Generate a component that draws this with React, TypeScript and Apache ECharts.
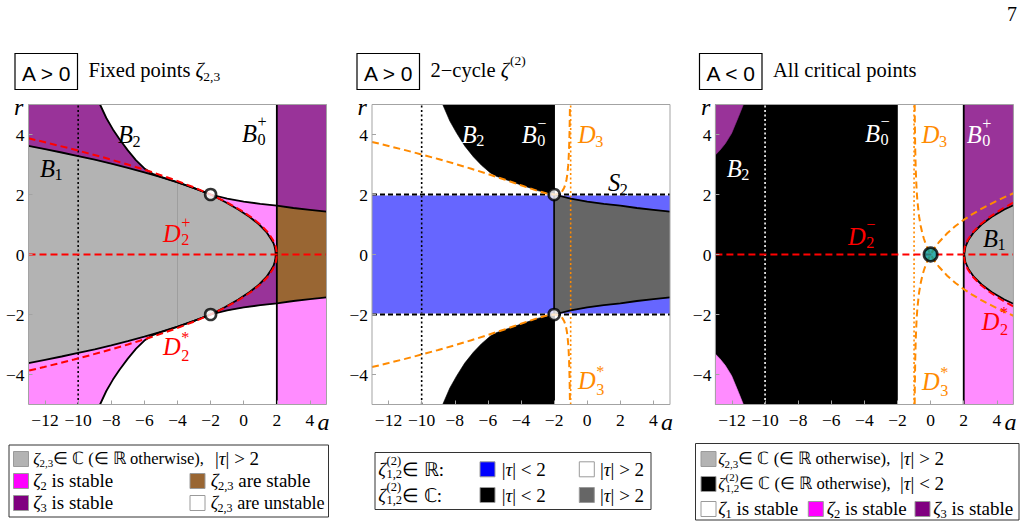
import React, { useEffect, useRef } from "react";
import * as echarts from "echarts";

const W = 1027;
const H = 526;
const SERIF = "Liberation Serif, Times New Roman, serif";
const SANS = "Liberation Sans, Arial, sans-serif";

// ---- axes ----
const A_MIN = -13;
const A_MAX = 5;
const R_MIN = -5;
const R_MAX = 5;
const A_TICKS = [-12, -10, -8, -6, -4, -2, 0, 2, 4];
const R_TICKS = [-4, -2, 0, 2, 4];

// ---- curves, (a, r), upper branches (lower ones are mirror images) ----
// discriminant curve D2 for A > 0
const D2_UP = [
  [-13, 3.873], [-12.06, 3.75], [-10.25, 3.5], [-8.56, 3.25], [-7, 3], [-5.56, 2.75],
  [-4.25, 2.5], [-3.06, 2.25], [-2, 2], [-1.06, 1.75], [-0.25, 1.5], [0.44, 1.25],
  [1, 1], [1.44, 0.75], [1.75, 0.5], [1.86, 0.375], [1.94, 0.25], [1.98, 0.125], [2, 0],
];
// boundary B1 of the complex fixed-point region (A > 0)
const B1_LEFT = [
  [-13, 3.62], [-12, 3.51], [-11, 3.4], [-10, 3.28], [-9, 3.16], [-8, 3.03], [-7, 2.89],
  [-6, 2.74], [-5, 2.58], [-4, 2.4], [-3, 2.21], [-2, 2],
];
const B1_NOSE = [
  [-2, 2], [-1.12, 1.75], [-0.33, 1.5], [0.36, 1.25], [0.93, 1], [1.37, 0.75],
  [1.67, 0.5], [1.8, 0.375], [1.87, 0.25], [1.915, 0.125], [1.93, 0],
];
// stability boundary B2
const B2_TOP = [
  [-8.68, 5], [-8.3, 4.55], [-7.9, 4.17], [-7.5, 3.84], [-7, 3.47], [-6.5, 3.14],
  [-6, 2.87], [-5.5, 2.69], [-5, 2.59], [-4.5, 2.5], [-4, 2.41], [-3, 2.215], [-2, 2],
];
const B2_RIGHT = [
  [-2, 2], [-1, 1.86], [0, 1.76], [1, 1.69], [2, 1.63], [3, 1.55], [4, 1.49], [5, 1.43],
];
// 2-cycle: edge of the complex |tau|<2 region
const B2_CYCLE_TOP = [
  [-8.73, 5], [-8.3, 4.45], [-7.88, 4.04], [-7.4, 3.62], [-6.88, 3.26], [-6.4, 2.98],
  [-5.85, 2.72], [-5.5, 2.61], [-5, 2.51], [-4, 2.32], [-3, 2.13], [-2, 2],
];
// D3 for A > 0 (branch with a < -1)
const D3_POS = [
  [-13, 3.753], [-12, 3.618], [-11, 3.479], [-10, 3.333], [-9, 3.182], [-8, 3.024],
  [-7, 2.858], [-6, 2.683], [-5, 2.5], [-4, 2.309], [-3, 2.121], [-2.5, 2.041], [-2, 2],
  [-1.8, 2.012], [-1.6, 2.066], [-1.5, 2.121], [-1.4, 2.214], [-1.3, 2.373], [-1.25, 2.5],
  [-1.2, 2.683], [-1.15, 2.969], [-1.12, 3.233], [-1.1, 3.479], [-1.08, 3.818],
  [-1.065, 4.177], [-1.05, 4.696], [-1.043, 5],
];
// D3 for A < 0 (a > -1)
const D3_NEG = [
  [-0.963, 5], [-0.957, 4.615], [-0.95, 4.249], [-0.93, 3.515], [-0.9, 2.846],
  [-0.85, 2.195], [-0.8, 1.789], [-0.7, 1.278], [-0.6, 0.949], [-0.5, 0.707],
  [-0.4, 0.516], [-0.3, 0.359], [-0.2, 0.224], [-0.1, 0.105], [0, 0], [0.25, 0.224],
  [0.5, 0.408], [1, 0.707], [1.5, 0.949], [2, 1.155], [2.5, 1.336], [3, 1.5],
  [3.5, 1.65], [4, 1.789], [4.5, 1.919], [5, 2.041],
];
// D2 and B1 for A < 0
const D2_NEG = [
  [2, 0], [2.0625, 0.25], [2.25, 0.5], [2.5625, 0.75], [3, 1], [3.5625, 1.25], [4.25, 1.5], [5, 1.732],
];
const B1_NEG = [
  [2.03, 0], [2.1, 0.25], [2.3, 0.5], [2.62, 0.75], [3.08, 1], [3.68, 1.25], [4.45, 1.5], [5, 1.64],
];
// zeta3-stable corner for A < 0
const CORNER_NEG = [
  [-13, 5], [-11.31, 5], [-11.6, 4.6], [-12.02, 4.04], [-12.4, 3.7], [-12.72, 3.48], [-13, 3.32],
];
// special points
const CUSP_POINTS = [[-2, 2], [-2, -2]];
const ORIGIN_POINT = [[0, 0]];

// ---- colours ----
const FRAME = "#a3a3a3";
const GRAY = "#b3b3b3";
const PINK = "#ff8cff";
const PURPLE = "#993399";
const BROWN = "#996633";
const BLUE = "#6666ff";
const DARK = "#666666";
const RED = "#ff0000";
const ORANGE = "#ff8a00";
const TEAL = "#009999";

const PANELS = [
  { left: 28.5, top: 104.5, width: 298, height: 300 },
  { left: 372, top: 104.5, width: 298, height: 300 },
  { left: 715.4, top: 104.5, width: 298, height: 300 },
];

type Pt = number[];
const flip = (pts: Pt[]) => pts.map(([a, r]) => [a, -r]);
const rev = (pts: Pt[]) => pts.slice().reverse();

// ---- text helpers ----
const measureCtx = document.createElement("canvas").getContext("2d") as CanvasRenderingContext2D;
function tw(text: string, size: number, style = "normal", family = SERIF) {
  measureCtx.font = `${style} normal ${size}px ${family}`;
  return measureCtx.measureText(text).width;
}
function txt(x: number, y: number, text: string, size: number, color: string, fontStyle = "normal", align = "left", family = SERIF, lineHeight?: number) {
  const style: any = { text, fill: color, fontSize: size, fontFamily: family, fontStyle, align, verticalAlign: "middle" };
  if (lineHeight) style.lineHeight = lineHeight;
  return { type: "text", x, y, z: 100, silent: true, style };
}
// gap: vertical distance between stacked super- and subscript, in units of the font size
type Run = { t?: string; it?: boolean; sub?: string; sup?: string; gap?: number };
function layoutRuns(x: number, cy: number, runs: Run[], size: number, color: string) {
  const els: any[] = [];
  const ss = Math.round(size * 0.66 * 10) / 10;
  let cx = x;
  for (const r of runs) {
    if (r.t) {
      const st = r.it ? "italic" : "normal";
      els.push(txt(cx, cy, r.t, size, color, st));
      cx += tw(r.t, size, st);
    }
    let adv = 0;
    if (r.sup && r.sub) {
      // stacked pair drawn as one two-line text
      const star = r.sup === "*";
      const gap = Math.max(r.gap ?? 0.72, ss / size + 0.01) * size;
      const mid = star ? cy + 0.02 * size : cy - 0.08 * size;
      els.push(txt(cx + 0.5, mid, `${r.sup}\n${r.sub}`, ss, color, "normal", "left", SERIF, gap));
      adv = Math.max(tw(r.sup, ss), tw(r.sub, ss)) + 0.5;
    } else if (r.sup) {
      const off = r.it ? 1 : 0.5;
      els.push(txt(cx + off, cy - size * 0.47, r.sup, ss, color));
      adv = tw(r.sup, ss) + off;
    } else if (r.sub) {
      const off = r.it ? -0.5 : 0.5;
      els.push(txt(cx + off, cy + size * 0.3, r.sub, ss, color));
      adv = tw(r.sub, ss) + off;
    }
    cx += adv;
  }
  return { els, width: cx - x };
}
// lays out a formula; shrinks it when it would be wider than maxW
function mathText(x: number, cy: number, runs: Run[], size: number, color: string, maxW = Infinity) {
  let out = layoutRuns(x, cy, runs, size, color);
  if (out.width > maxW) out = layoutRuns(x, cy, runs, size * (maxW / out.width), color);
  return out.els;
}
function swatch(x: number, cy: number, fill: string) {
  return {
    type: "rect", z: 100, silent: true,
    shape: { x, y: cy - 7.5, width: 15, height: 15 },
    style: { fill, stroke: "#9a9a9a", lineWidth: 1 },
  };
}

// ---- series helpers ----
function line(gi: number, data: Pt[], color: string, width: number, type: any = "solid", z = 3) {
  return {
    type: "line", xAxisIndex: gi, yAxisIndex: gi, data, symbol: "none", showSymbol: false,
    smooth: false, clip: true, silent: true, z, animation: false,
    lineStyle: { color, width, type, cap: "butt" },
  };
}
function fills(gi: number, regions: { color: string; pts: Pt[] }[]) {
  return {
    type: "custom", xAxisIndex: gi, yAxisIndex: gi, z: 1, silent: true, clip: true,
    data: regions.map((r, i) => [r.pts[0][0], r.pts[0][1], i]),
    encode: { x: 0, y: 1 },
    renderItem: (_params: any, api: any) => {
      const reg = regions[api.value(2)];
      return {
        type: "polygon",
        shape: { points: reg.pts.map((p) => api.coord(p)) },
        style: { fill: reg.color, stroke: reg.color, lineWidth: 0.6 },
      };
    },
  };
}
function dots(gi: number, data: Pt[], fill: string, size: number) {
  return {
    type: "scatter", xAxisIndex: gi, yAxisIndex: gi, data, symbol: "circle", symbolSize: size,
    silent: true, z: 6, itemStyle: { color: fill, borderColor: "#000", borderWidth: 2.6 },
  };
}

function buildOption() {
  // panel 1: fixed points, A > 0
  const B1_FULL = B1_LEFT.concat(B1_NOSE.slice(1));
  const B2_FULL = B2_TOP.concat(B2_RIGHT.slice(1));
  const B2_MID = B2_RIGHT.filter((p) => p[0] <= 2);
  const B2_OUT = B2_RIGHT.filter((p) => p[0] >= 2);
  const topLeft = [[A_MIN, R_MAX], ...B2_TOP, ...rev(B1_LEFT)];
  const mid = [...B2_MID, [2, 0], ...rev(B1_NOSE)];
  const rightTop = [[2, R_MAX], [A_MAX, R_MAX], ...rev(B2_OUT)];
  const regions1 = [
    { color: GRAY, pts: [...B1_FULL, ...rev(flip(B1_FULL))] },
    { color: PURPLE, pts: topLeft },
    { color: PINK, pts: flip(topLeft) },
    { color: PINK, pts: mid },
    { color: PURPLE, pts: flip(mid) },
    { color: PURPLE, pts: rightTop },
    { color: BROWN, pts: [...B2_OUT, ...rev(flip(B2_OUT))] },
    { color: PINK, pts: flip(rightTop) },
  ];

  // panel 2: 2-cycle, A > 0
  const blueTop = [[-2, 2], [A_MAX, 2], ...rev(B2_RIGHT)];
  const blackTop = [...B2_CYCLE_TOP, [-2, R_MAX]];
  const regions2 = [
    { color: BLUE, pts: [[A_MIN, -2], [-2, -2], [-2, 2], [A_MIN, 2]] },
    { color: BLUE, pts: blueTop },
    { color: BLUE, pts: flip(blueTop) },
    { color: DARK, pts: [...B2_RIGHT, ...rev(flip(B2_RIGHT))] },
    { color: "#000", pts: blackTop },
    { color: "#000", pts: flip(blackTop) },
  ];

  // panel 3: all critical points, A < 0
  const rightTopNeg = [[2, 0], ...B1_NEG, [A_MAX, R_MAX], [2, R_MAX]];
  const regions3 = [
    { color: "#000", pts: [[A_MIN, R_MIN], [-2, R_MIN], [-2, R_MAX], [A_MIN, R_MAX]] },
    { color: PURPLE, pts: CORNER_NEG },
    { color: PINK, pts: flip(CORNER_NEG) },
    { color: PURPLE, pts: rightTopNeg },
    { color: GRAY, pts: [...B1_NEG, ...rev(flip(B1_NEG))] },
    { color: PINK, pts: flip(rightTopNeg) },
  ];

  const dash = [7, 4];
  const dot = [2, 2.5];
  const vline = (a: number) => [[a, R_MIN], [a, R_MAX]];
  const hline = (r: number) => [[A_MIN, r], [A_MAX, r]];

  const series: any[] = [
    fills(0, regions1),
    line(0, vline(-10), "#000", 1.6, dot),
    line(0, [[-4, -2.4], [-4, 2.4]], "rgba(110,110,110,0.45)", 0.7),
    line(0, [...B1_FULL, ...rev(flip(B1_FULL))], "#000", 1.8),
    line(0, B2_FULL, "#000", 1.8),
    line(0, flip(B2_FULL), "#000", 1.8),
    line(0, vline(2), "#000", 1.8),
    line(0, hline(0), RED, 2, dash, 4),
    line(0, [...D2_UP, ...rev(flip(D2_UP))], RED, 2, dash, 4),
    dots(0, CUSP_POINTS, "#fff", 11),

    fills(1, regions2),
    line(1, vline(-10), "#000", 1.6, dot),
    line(1, vline(-1), ORANGE, 1.6, dot),
    line(1, hline(2), "#fff", 2),
    line(1, hline(-2), "#fff", 2),
    line(1, hline(2), "#000", 2, [5, 3]),
    line(1, hline(-2), "#000", 2, [5, 3]),
    line(1, B2_RIGHT, "#000", 1.8),
    line(1, flip(B2_RIGHT), "#000", 1.8),
    line(1, vline(-2), "#000", 1.6),
    line(1, D3_POS, ORANGE, 2, dash, 4),
    line(1, flip(D3_POS), ORANGE, 2, dash, 4),
    dots(1, CUSP_POINTS, "#fff", 11),

    fills(2, regions3),
    line(2, vline(-10), "#fff", 1.6, dot),
    line(2, vline(-1), ORANGE, 1.6, dot),
    line(2, vline(2), "#000", 1.8),
    line(2, [...rev(flip(B1_NEG)), ...B1_NEG], "#000", 1.8),
    line(2, hline(0), RED, 2, dash, 4),
    line(2, [...rev(flip(D2_NEG)), ...D2_NEG], RED, 2, dash, 4),
    line(2, D3_NEG, ORANGE, 2, dash, 4),
    line(2, flip(D3_NEG), ORANGE, 2, dash, 4),
    dots(2, ORIGIN_POINT, TEAL, 13.5),
  ];

  const fmt = (v: number) => String(v).replace("-", "\u2212");
  const xAxis = PANELS.map((_, i) => ({
    type: "value", gridIndex: i, min: A_MIN, max: A_MAX, z: 10, position: "bottom",
    axisLine: { show: false, onZero: false },
    axisTick: { show: true, inside: true, length: 4, customValues: A_TICKS, lineStyle: { color: FRAME, width: 1 } },
    axisLabel: { show: true, customValues: A_TICKS, formatter: fmt, color: "#000", fontFamily: SERIF, fontSize: 17.5, margin: 6, hideOverlap: false },
    splitLine: { show: false },
  }));
  const yAxis = PANELS.map((_, i) => ({
    type: "value", gridIndex: i, min: R_MIN, max: R_MAX, z: 10, position: "left",
    axisLine: { show: false, onZero: false },
    axisTick: { show: true, inside: true, length: 4, customValues: R_TICKS, lineStyle: { color: FRAME, width: 1 } },
    axisLabel: { show: true, customValues: R_TICKS, formatter: fmt, color: "#000", fontFamily: SERIF, fontSize: 17.5, margin: 4, hideOverlap: false },
    splitLine: { show: false },
  }));

  const g: any[] = [];
  // frames
  PANELS.forEach((p) => {
    g.push({ type: "rect", z: 50, silent: true, shape: { x: p.left, y: p.top, width: p.width, height: p.height }, style: { fill: "none", stroke: FRAME, lineWidth: 1 } });
  });
  // axis names
  [0, 1, 2].forEach((i) => {
    const p = PANELS[i];
    g.push(txt(p.left - 14.5, 107, "r", 24, "#000", "italic"));
    g.push(txt(p.left + p.width - 9, 422, "a", 24, "#000", "italic"));
  });
  // page number
  g.push(txt(1012, 14, "7", 20, "#000", "normal", "center"));

  // panel headings
  const heads = [
    { x: 15, sign: "A > 0", runs: [{ t: "Fixed points " }, { t: "ζ", it: true, sub: "2,3" }] as Run[] },
    { x: 357, sign: "A > 0", runs: [{ t: "2\u2212cycle " }, { t: "ζ", it: true, sup: "(2)" }] as Run[] },
    { x: 699.5, sign: "A < 0", runs: [{ t: "All critical points" }] as Run[] },
  ];
  heads.forEach((h) => {
    g.push({ type: "rect", z: 100, silent: true, shape: { x: h.x, y: 53.5, width: 62.5, height: 36 }, style: { fill: "none", stroke: "#000", lineWidth: 1.2 } });
    g.push(txt(h.x + 31.25, 73.5, h.sign, 21, "#000", "normal", "center", SANS));
    g.push(...mathText(h.x + 73.5, 70, h.runs, 20.5, "#000"));
  });

  // region labels
  const L = 24.5;
  const lab = (x: number, y: number, base: string, color: string, sub?: string, sup?: string) =>
    g.push(...mathText(x, y, [{ t: base, it: true, sub, sup }], L, color));
  lab(40, 168, "B", "#000", "1");
  lab(118, 134.5, "B", "#000", "2");
  lab(242, 133, "B", "#000", "0", "+");
  lab(163, 233.5, "D", RED, "2", "+");
  lab(163, 346.5, "D", RED, "2", "*");

  lab(461.7, 134, "B", "#fff", "2");
  lab(521.7, 134.5, "B", "#fff", "0", "\u2212");
  lab(578, 134.5, "D", ORANGE, "3");
  lab(608, 182.5, "S", "#000", "2");
  lab(578, 380.5, "D", ORANGE, "3", "*");

  lab(726.7, 168, "B", "#fff", "2");
  lab(865, 133, "B", "#fff", "0", "\u2212");
  lab(921.7, 134.5, "D", ORANGE, "3");
  lab(966.7, 134.5, "B", "#fff", "0", "+");
  lab(848, 236, "D", RED, "2", "\u2212");
  lab(983, 238, "B", "#000", "1");
  lab(981.7, 321, "D", RED, "2", "*");
  lab(922, 381.5, "D", ORANGE, "3", "*");

  // legends
  const LS = 19;
  const box = (x: number, y: number, w: number, h: number) =>
    g.push({ type: "rect", z: 99, silent: true, shape: { x, y, width: w, height: h }, style: { fill: "#fff", stroke: "#333", lineWidth: 1 } });
  const tau = (s: string): Run[] => [{ t: "|" }, { t: "τ", it: true }, { t: s }];
  const z23: Run = { t: "ζ", it: true, sub: "2,3" };
  const z12: Run = { t: "ζ", it: true, sup: "(2)", sub: "1,2", gap: 0.6 };
  const otherwise: Run = { t: "∈ ℂ (∈ ℝ otherwise)," };

  box(9, 445, 319.5, 72);
  g.push(swatch(13.5, 459, GRAY));
  g.push(...mathText(33.3, 458.5, [z23, otherwise], LS, "#000", 168));
  g.push(...mathText(215, 458.5, tau("| > 2"), LS, "#000"));
  g.push(swatch(13.5, 481, "#ff00ff"));
  g.push(...mathText(33.3, 480.5, [{ t: "ζ", it: true, sub: "2" }, { t: " is stable" }], LS, "#000"));
  g.push(swatch(190, 481, BROWN));
  g.push(...mathText(210.7, 480.5, [z23, { t: " are stable" }], LS, "#000"));
  g.push(swatch(13.5, 503, "#800080"));
  g.push(...mathText(33.3, 502.5, [{ t: "ζ", it: true, sub: "3" }, { t: " is stable" }], LS, "#000"));
  g.push(swatch(190, 503, "#fff"));
  g.push(...mathText(210.7, 502.5, [z23, { t: " are unstable" }], LS, "#000", 114));

  box(375, 452.5, 276, 57);
  g.push(...mathText(378.3, 469.3, [z12, { t: "∈ ℝ:" }], LS, "#000"));
  g.push(swatch(480, 469.3, "#0000ff"));
  g.push(...mathText(501.7, 469.3, tau("| < 2"), LS, "#000"));
  g.push(swatch(579.3, 469.3, "#fff"));
  g.push(...mathText(600, 469.3, tau("| > 2"), LS, "#000"));
  g.push(...mathText(378.3, 495, [z12, { t: "∈ ℂ:" }], LS, "#000"));
  g.push(swatch(480, 495, "#000"));
  g.push(...mathText(501.7, 495, tau("| < 2"), LS, "#000"));
  g.push(swatch(579.3, 495, DARK));
  g.push(...mathText(600, 495, tau("| > 2"), LS, "#000"));

  box(695.5, 443.5, 323.5, 76.5);
  g.push(swatch(701, 459, GRAY));
  g.push(...mathText(718.3, 458.5, [z23, otherwise], LS, "#000", 170));
  g.push(...mathText(900, 458.5, tau("| > 2"), LS, "#000"));
  g.push(swatch(701, 484, "#000"));
  g.push(...mathText(718.3, 483.5, [z12, otherwise], LS, "#000", 170));
  g.push(...mathText(900, 483.5, tau("| < 2"), LS, "#000"));
  g.push(swatch(701, 509, "#fff"));
  g.push(...mathText(718.3, 508.5, [{ t: "ζ", it: true, sub: "1" }, { t: " is stable" }], LS, "#000", 85));
  g.push(swatch(808.3, 509, "#ff00ff"));
  g.push(...mathText(826.7, 508.5, [{ t: "ζ", it: true, sub: "2" }, { t: " is stable" }], LS, "#000", 85));
  g.push(swatch(915, 509, "#800080"));
  g.push(...mathText(933.3, 508.5, [{ t: "ζ", it: true, sub: "3" }, { t: " is stable" }], LS, "#000", 82));

  return {
    animation: false,
    backgroundColor: "#fff",
    grid: PANELS.map((p) => ({ ...p, containLabel: false, show: false })),
    xAxis,
    yAxis,
    series,
    graphic: { elements: g },
  };
}

export default function App() {
  const ref = useRef<HTMLDivElement>(null);
  useEffect(() => {
    const el = ref.current as HTMLDivElement;
    const chart = echarts.init(el, null, { renderer: "svg", width: W, height: H });
    chart.setOption(buildOption() as any);
    return () => chart.dispose();
  }, []);
  return (
    <div
      ref={ref}
      style={{ position: "fixed", left: 0, top: 0, width: W, height: H, background: "#fff" }}
    />
  );
}
